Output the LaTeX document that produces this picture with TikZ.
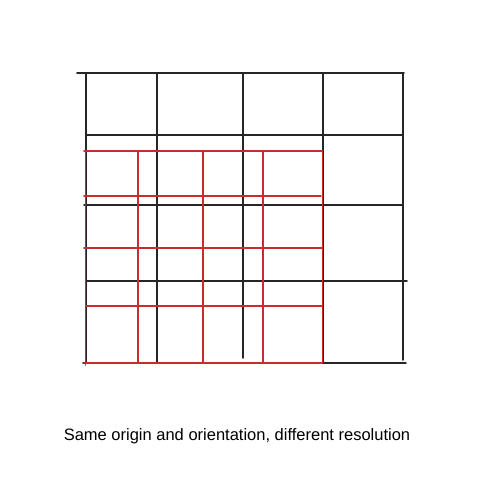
\documentclass[tikz,border=0pt]{standalone}
\usepackage{fontspec}
\setmainfont{Liberation Sans}
\begin{document}
\begin{tikzpicture}[x=1pt,y=-1pt,
  blk/.style={draw=black!85,line width=1.6pt,line cap=round},
  rd/.style={draw={rgb,255:red,200;green,45;blue,45},line width=1.6pt,line cap=round},
  caption/.style={font=\fontsize{16.5}{19}\selectfont,text=black}]
\useasboundingbox (0,0) rectangle (500,500);
% black grid: verticals
\draw[blk] (86,73) -- (86,363);
\draw[blk] (157,73) -- (157,363);
\draw[blk] (243,73) -- (243,358);
\draw[blk] (323,73) -- (323,363);
\draw[blk] (403,73) -- (403,360);
% black grid: horizontals
\draw[blk] (77,73) -- (404,73);
\draw[blk] (86,135) -- (403,135);
\draw[blk] (84,205) -- (403,205);
\draw[blk] (86,281) -- (407,281);
\draw[blk] (83,363) -- (406,363);
% red grid: verticals
\draw[rd] (85.5,151) -- (85.5,365);
\draw[rd] (138,151) -- (138,363);
\draw[rd] (203,151) -- (203,363);
\draw[rd] (263,151) -- (263,363);
\draw[rd] (322.5,151) -- (322.5,363);
% red grid: horizontals
\draw[rd] (84,151) -- (322.5,151);
\draw[rd] (84,196) -- (321,196);
\draw[rd] (84,248) -- (322,248);
\draw[rd] (86,306) -- (322,306);
\draw[rd] (84,363) -- (322.5,363);
\node[caption] (cap) at (237,436) {Same origin and orientation, different resolution};
\end{tikzpicture}
\end{document}
